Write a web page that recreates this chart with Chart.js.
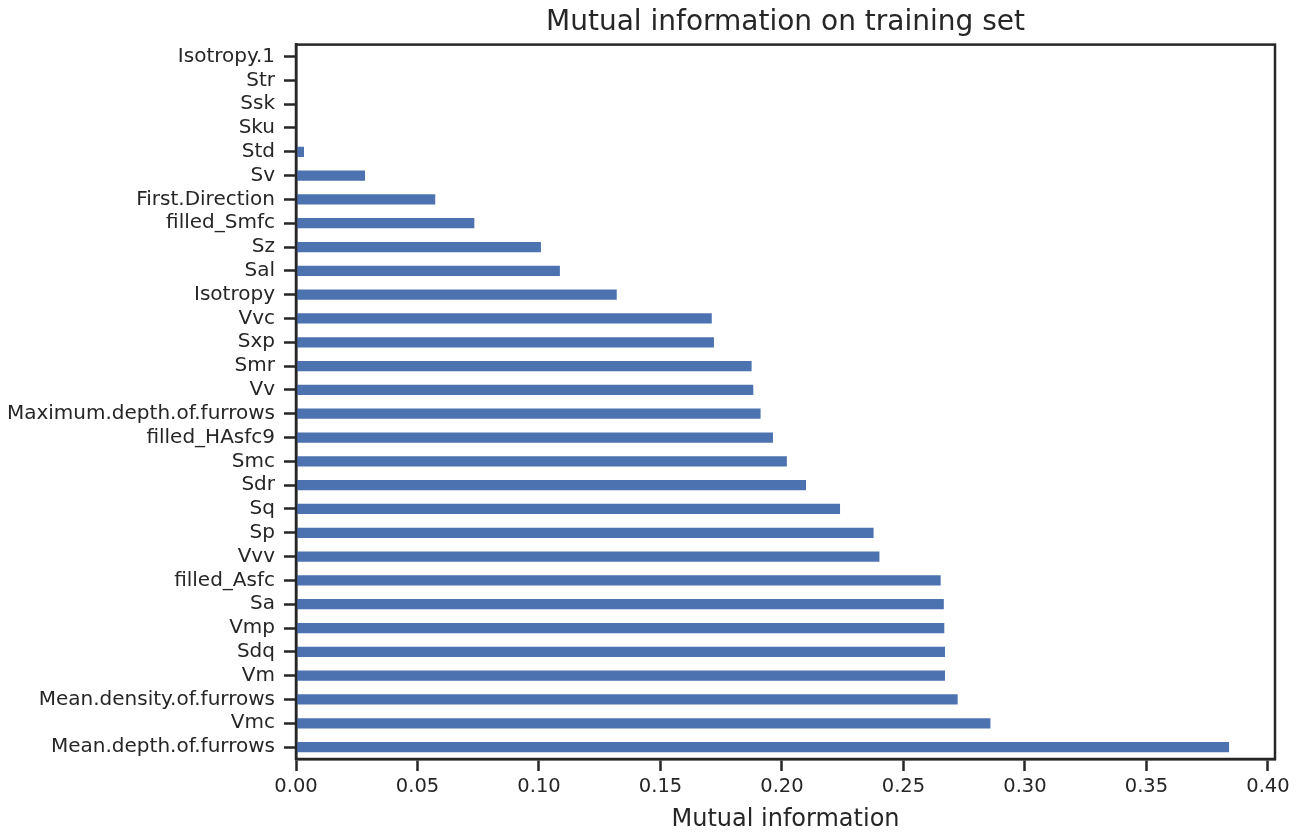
<!DOCTYPE html>
<html>
<head>
<meta charset="utf-8">
<script src="https://cdn.jsdelivr.net/npm/chart.js@4"></script>
<style>
  html, body { margin: 0; padding: 0; background: #fff; }
  #wrap { width: 1303px; height: 832px; }
</style>
</head>
<body>
<div id="wrap"><canvas id="miChart" width="1303" height="832"></canvas></div>
<script>
// Features, top to bottom as in the figure
const features = [
    'Isotropy.1', 'Str', 'Ssk', 'Sku', 'Std', 'Sv', 'First.Direction', 'filled_Smfc',
    'Sz', 'Sal', 'Isotropy', 'Vvc', 'Sxp', 'Smr', 'Vv', 'Maximum.depth.of.furrows',
    'filled_HAsfc9', 'Smc', 'Sdr', 'Sq', 'Sp', 'Vvv', 'filled_Asfc', 'Sa', 'Vmp',
    'Sdq', 'Vm', 'Mean.density.of.furrows', 'Vmc', 'Mean.depth.of.furrows'
];

const mutualInfo = [
    0, 0, 0, 0, 0.0033, 0.0284, 0.0573, 0.0734,
    0.1008, 0.1086, 0.1320, 0.1711, 0.1720, 0.1875, 0.1882, 0.1912,
    0.1963, 0.2020, 0.2099, 0.2239, 0.2377, 0.2401, 0.2653, 0.2666, 0.2668,
    0.2671, 0.2671, 0.2723, 0.2858, 0.3840
];

const xTicks = [0, 0.05, 0.10, 0.15, 0.20, 0.25, 0.30, 0.35, 0.40];

const textColor = '#262626';
const fontFamily = '"DejaVu Sans", sans-serif';

// draw top and right spines around the plot area
const frame = {
    id: 'frame',
    afterDraw(chart) {
        const a = chart.chartArea;
        const ctx = chart.ctx;
        ctx.save();
        ctx.strokeStyle = textColor;
        ctx.lineWidth = 2.5;
        ctx.strokeRect(a.left, a.top, a.right - a.left, a.bottom - a.top);
        ctx.restore();
    }
};

const ctx = document.getElementById('miChart').getContext('2d');
new Chart(ctx, {
    type: 'bar',
    data: {
        labels: features,
        datasets: [{
            data: mutualInfo,
            backgroundColor: '#4c72b0',
            borderWidth: 0,
            barPercentage: 0.43,
            categoryPercentage: 1
        }]
    },
    plugins: [frame],
    options: {
        indexAxis: 'y',
        responsive: false,
        animation: false,
        layout: {
            padding: { left: 0, right: 28, top: 0, bottom: 0 }
        },
        plugins: {
            legend: { display: false },
            tooltip: { enabled: false },
            title: {
                display: true,
                fullSize: false,
                text: 'Mutual information on training set',
                color: textColor,
                font: { family: fontFamily, size: 28, weight: 'normal' },
                padding: { top: 6, bottom: 5 }
            }
        },
        scales: {
            x: {
                type: 'linear',
                min: 0,
                max: 0.4029,
                afterBuildTicks: axis => {
                    axis.ticks = xTicks.map(v => ({ value: v }));
                },
                afterFit: scale => { scale.height = 73; },
                border: { display: true, color: textColor, width: 2.5 },
                grid: {
                    drawOnChartArea: false,
                    drawTicks: true,
                    tickLength: 12,
                    tickWidth: 2.5,
                    tickColor: textColor
                },
                ticks: {
                    color: textColor,
                    padding: 4,
                    maxRotation: 0,
                    font: { family: fontFamily, size: 19.5 },
                    callback: v => Number(v).toFixed(2)
                },
                title: {
                    display: true,
                    text: 'Mutual information',
                    color: textColor,
                    font: { family: fontFamily, size: 24, lineHeight: 1 },
                    padding: { top: 2, bottom: 0 }
                }
            },
            y: {
                type: 'category',
                afterFit: scale => { scale.width = 296; },
                border: { display: true, color: textColor, width: 2.5 },
                grid: {
                    drawOnChartArea: false,
                    drawTicks: true,
                    tickLength: 12,
                    tickWidth: 2.5,
                    tickColor: textColor,
                    offset: false
                },
                ticks: {
                    color: textColor,
                    padding: 9,
                    autoSkip: false,
                    font: { family: fontFamily, size: 20 }
                }
            }
        }
    }
});
</script>
</body>
</html>
